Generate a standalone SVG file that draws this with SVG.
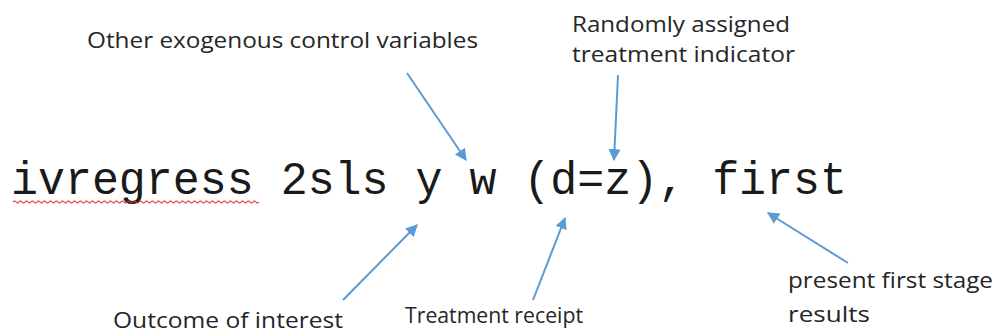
<svg xmlns="http://www.w3.org/2000/svg" width="995" height="334" viewBox="0 0 995 334">
<style>
.lbl{font-family:"Open Sans","Liberation Sans",sans-serif;font-size:22px;fill:#262626}
.code{font-family:"Liberation Mono","DejaVu Sans Mono",monospace;font-size:46px;fill:#1a1a1a}
.arr{stroke:#5b9bd5;stroke-width:2;fill:none;marker-end:url(#ah)}
</style>
<defs>
<marker id="ah" viewBox="0 0 10 10" refX="9" refY="5" markerWidth="6" markerHeight="6" orient="auto" markerUnits="strokeWidth">
<path d="M0,0 L10,5 L0,10 z" fill="#5b9bd5"/>
</marker>
</defs>
<rect width="995" height="334" fill="#ffffff"/>
<g id="command">
<text class="code" x="11" y="194" textLength="836" lengthAdjust="spacingAndGlyphs">ivregress 2sls y w (d=z), first</text>
<path d="M13,202 q1.5,-2 3,0 t3,0 t3,0 t3,0 t3,0 t3,0 t3,0 t3,0 t3,0 t3,0 t3,0 t3,0 t3,0 t3,0 t3,0 t3,0 t3,0 t3,0 t3,0 t3,0 t3,0 t3,0 t3,0 t3,0 t3,0 t3,0 t3,0 t3,0 t3,0 t3,0 t3,0 t3,0 t3,0 t3,0 t3,0 t3,0 t3,0 t3,0 t3,0 t3,0 t3,0 t3,0 t3,0 t3,0 t3,0 t3,0 t3,0 t3,0 t3,0 t3,0 t3,0 t3,0 t3,0 t3,0 t3,0 t3,0 t3,0 t3,0 t3,0 t3,0 t3,0 t3,0 t3,0 t3,0 t3,0 t3,0 t3,0 t3,0 t3,0 t3,0 t3,0 t3,0 t3,0 t3,0 t3,0 t3,0 t3,0 t3,0 t3,0 t3,0 t3,0 t3,0" stroke="#e03030" stroke-width="1.2" fill="none"/>
</g>
<g id="label-controls">
<text class="lbl" x="87" y="48" textLength="391" lengthAdjust="spacingAndGlyphs">Other exogenous control variables</text>
</g>
<g id="label-instrument">
<text class="lbl" x="572" y="32" textLength="218" lengthAdjust="spacingAndGlyphs">Randomly assigned</text>
<text class="lbl" x="572" y="62" textLength="223" lengthAdjust="spacingAndGlyphs">treatment indicator</text>
</g>
<g id="label-outcome">
<text class="lbl" x="113" y="328" textLength="230" lengthAdjust="spacingAndGlyphs">Outcome of interest</text>
</g>
<g id="label-treatment">
<text class="lbl" x="405" y="323" textLength="178" lengthAdjust="spacingAndGlyphs">Treatment receipt</text>
</g>
<g id="label-first">
<text class="lbl" x="788" y="288" textLength="205" lengthAdjust="spacingAndGlyphs">present first stage</text>
<text class="lbl" x="788" y="322" textLength="82" lengthAdjust="spacingAndGlyphs">results</text>
</g>
<g id="connectors">
<line class="arr" x1="407" y1="73" x2="466" y2="160"/>
<line class="arr" x1="618" y1="75" x2="614" y2="160"/>
<line class="arr" x1="343" y1="300" x2="417" y2="225"/>
<line class="arr" x1="533" y1="300" x2="565" y2="218"/>
<line class="arr" x1="848" y1="263" x2="768" y2="213"/>
</g>
</svg>
